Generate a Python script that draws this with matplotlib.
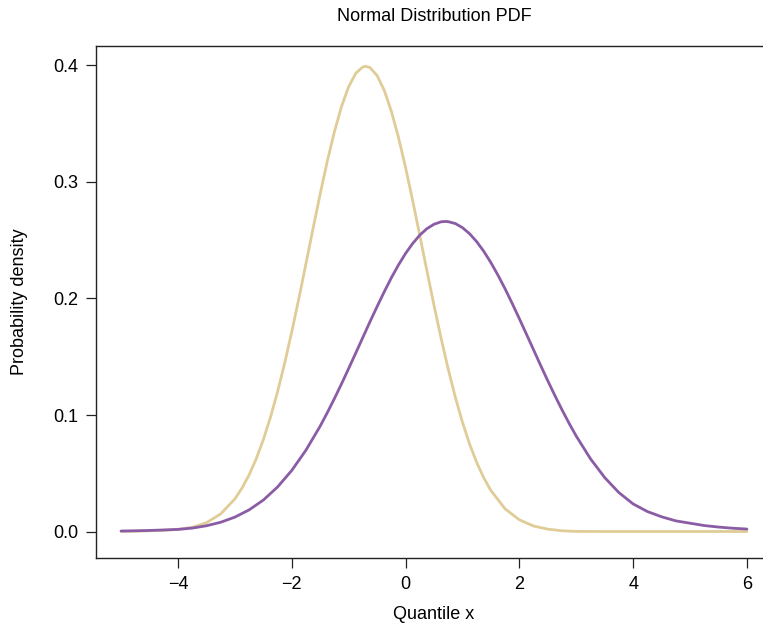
import matplotlib
matplotlib.use('Agg')
import matplotlib.pyplot as plt

plt.rcParams['font.family'] = ['Liberation Sans', 'DejaVu Sans']

# tan curve (narrow, left)
x_a = [-5.0, -4.75, -4.5, -4.25, -4.0, -3.75, -3.5, -3.25, -3.0, -2.875, -2.75, -2.625,
       -2.5, -2.375, -2.25, -2.125, -2.0, -1.875, -1.75, -1.625, -1.5, -1.375, -1.25,
       -1.125, -1.0, -0.875, -0.75, -0.7, -0.625, -0.5, -0.375, -0.25, -0.125, 0.0,
       0.125, 0.25, 0.375, 0.5, 0.625, 0.75, 0.875, 1.0, 1.125, 1.25, 1.375, 1.5,
       1.75, 2.0, 2.25, 2.5, 2.75, 3.0, 3.5, 4.0, 4.5, 5.0, 5.5, 6.0]
dens_a = [0.0005, 0.0007, 0.0010, 0.0015, 0.0022, 0.0040, 0.0079, 0.0154, 0.0283, 0.0375,
          0.0488, 0.0626, 0.0790, 0.0981, 0.1200, 0.1445, 0.1714, 0.2000, 0.2299, 0.2601,
          0.2897, 0.3177, 0.3429, 0.3645, 0.3814, 0.3929, 0.3984, 0.3989, 0.3978, 0.3910,
          0.3784, 0.3605, 0.3381, 0.3123, 0.2839, 0.2541, 0.2238, 0.1942, 0.1658, 0.1394,
          0.1154, 0.0940, 0.0754, 0.0596, 0.0463, 0.0355, 0.0198, 0.0104, 0.0051, 0.0024,
          0.0010, 0.0005, 0.0004, 0.0004, 0.0004, 0.0004, 0.0004, 0.0004]

# purple curve (wide, right)
x_b = [-5.0, -4.75, -4.5, -4.25, -4.0, -3.75, -3.5, -3.25, -3.0, -2.75, -2.5, -2.25,
       -2.0, -1.75, -1.5, -1.375, -1.25, -1.125, -1.0, -0.875, -0.75, -0.625, -0.5,
       -0.375, -0.25, -0.125, 0.0, 0.125, 0.25, 0.375, 0.5, 0.625, 0.7, 0.75, 0.875,
       1.0, 1.125, 1.25, 1.375, 1.5, 1.625, 1.75, 1.875, 2.0, 2.125, 2.25, 2.375, 2.5,
       2.625, 2.75, 2.875, 3.0, 3.25, 3.5, 3.75, 4.0, 4.25, 4.5, 4.75, 5.0, 5.25, 5.5,
       5.75, 6.0]
dens_b = [0.0008, 0.0010, 0.0013, 0.0017, 0.0022, 0.0033, 0.0053, 0.0083, 0.0127, 0.0189,
          0.0273, 0.0385, 0.0527, 0.0701, 0.0907, 0.1022, 0.1143, 0.1269, 0.1400, 0.1533,
          0.1667, 0.1801, 0.1931, 0.2057, 0.2177, 0.2287, 0.2386, 0.2471, 0.2543, 0.2598,
          0.2636, 0.2657, 0.2660, 0.2658, 0.2642, 0.2607, 0.2555, 0.2487, 0.2404, 0.2307,
          0.2199, 0.2082, 0.1957, 0.1827, 0.1694, 0.1560, 0.1426, 0.1295, 0.1168, 0.1046,
          0.0930, 0.0821, 0.0627, 0.0466, 0.0337, 0.0240, 0.0175, 0.0130, 0.0095, 0.0075,
          0.0055, 0.0042, 0.0032, 0.0025]

xticks = [-4, -2, 0, 2, 4, 6]
xticklabels = ['\u22124', '\u22122', '0', '2', '4', '6']
yticks = [0.0, 0.1, 0.2, 0.3, 0.4]
yticklabels = ['0.0', '0.1', '0.2', '0.3', '0.4']

fig = plt.figure(figsize=(7.63, 6.29), dpi=100)
ax = fig.add_axes([96 / 763, 71 / 629, 676 / 763, 512 / 629])

ax.plot(x_a, dens_a, color='#dfcc97', lw=2.0, solid_capstyle='round', solid_joinstyle='round')
ax.plot(x_b, dens_b, color='#8a5ca6', lw=2.0, solid_capstyle='round', solid_joinstyle='round')

ax.set_xlim(-5.44, 6.44)
ax.set_ylim(-0.0223, 0.4163)
ax.set_xticks(xticks)
ax.set_xticklabels(xticklabels)
ax.set_yticks(yticks)
ax.set_yticklabels(yticklabels)
ax.tick_params(direction='out', length=7, width=0.9, labelsize=13, pad=6, color='#222222')

for s in ax.spines.values():
    s.set_linewidth(1.0)
    s.set_color('#222222')
ax.spines['right'].set_visible(False)

ax.set_title('Normal Distribution PDF', fontsize=13, pad=18)
ax.set_xlabel('Quantile x', fontsize=13, labelpad=9)
ax.set_ylabel('Probability density', fontsize=13, labelpad=18)

fig.savefig('out.png', dpi=100)
